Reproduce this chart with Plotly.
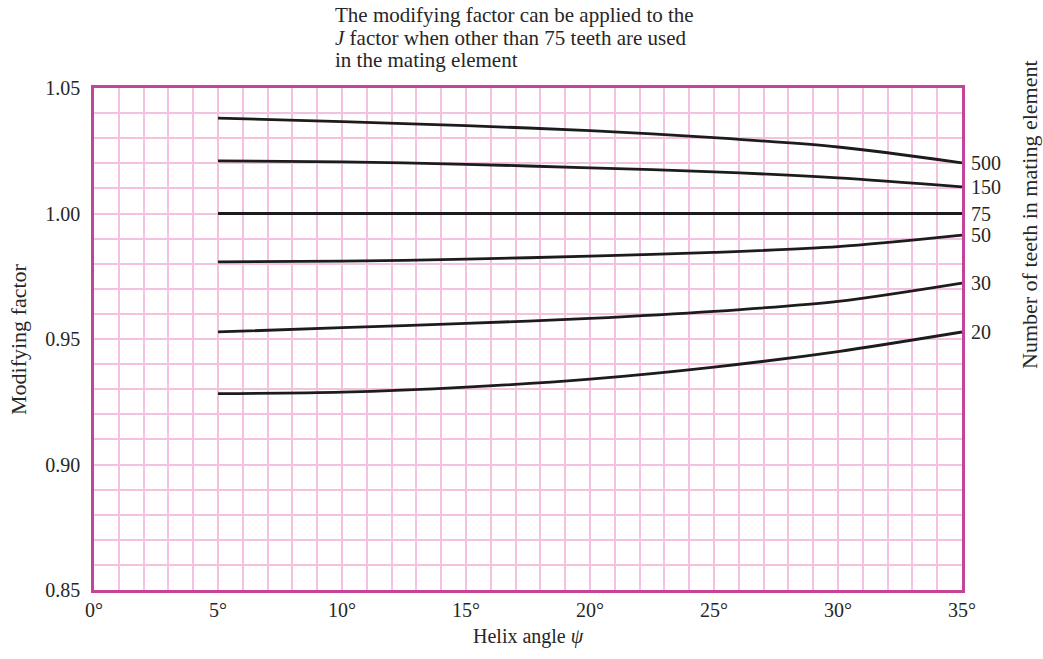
import plotly.graph_objects as go

helix_deg = [5, 10, 15, 20, 25, 30, 35]
teeth_500 = [1.038, 1.0366, 1.0350, 1.0330, 1.0302, 1.0265, 1.0202]
teeth_150 = [1.021, 1.0206, 1.0196, 1.0182, 1.0166, 1.0142, 1.0106]
teeth_75 = [1.000, 1.000, 1.000, 1.000, 1.000, 1.000, 1.000]
teeth_50 = [0.9807, 0.9810, 0.9818, 0.9830, 0.9845, 0.9868, 0.9914]
teeth_30 = [0.9528, 0.9545, 0.9562, 0.9582, 0.9610, 0.9650, 0.9723]
teeth_20 = [0.9282, 0.9288, 0.9308, 0.9340, 0.9388, 0.9450, 0.9528]

series = [("500", teeth_500), ("150", teeth_150), ("75", teeth_75),
          ("50", teeth_50), ("30", teeth_30), ("20", teeth_20)]

x_ticks = [0, 5, 10, 15, 20, 25, 30, 35]
x_tick_text = ["0°", "5°", "10°", "15°", "20°", "25°", "30°", "35°"]
y_ticks = [0.85, 0.90, 0.95, 1.00, 1.05]
y_tick_text = ["0.85", "0.90", "0.95", "1.00", "1.05"]

title_lines = ["The modifying factor can be applied to the",
               "<i>J</i> factor when other than 75 teeth are used",
               "in the mating element"]

FONT = "Liberation Serif, Times New Roman, serif"
AXIS = "#c4449c"
GRID = "#f4c2de"
INK = "#1c1c1c"
TXT = "#262626"

L, R, T, B = 94, 962, 88, 590
PW, PH = R - L, B - T


def px(xp):
    return (xp - L) / PW


def py(yp):
    return (B - yp) / PH


fig = go.Figure()
for name, vals in series:
    fig.add_trace(go.Scatter(x=helix_deg, y=vals, mode="lines", name=name,
                             line=dict(color=INK, width=2.8, shape="spline", smoothing=0.8),
                             showlegend=False, hoverinfo="skip"))

annotations = []
for name, vals in series:
    annotations.append(dict(x=1.0, xref="paper", xshift=7, y=vals[-1], yref="y",
                            text=name, showarrow=False, xanchor="left", yanchor="middle",
                            font=dict(family=FONT, size=20, color=TXT)))

for i, line in enumerate(title_lines):
    annotations.append(dict(x=px(333), xref="paper", y=py(15 + 22.5 * i), yref="paper",
                            text=line, showarrow=False, xanchor="left", yanchor="middle",
                            align="left", font=dict(family=FONT, size=21, color=TXT)))
annotations.append(dict(x=px(18), xref="paper", y=py(339), yref="paper",
                        text="Modifying factor", textangle=-90, showarrow=False,
                        xanchor="center", yanchor="middle",
                        font=dict(family=FONT, size=22, color=TXT)))
annotations.append(dict(x=px(1029), xref="paper", y=py(215), yref="paper",
                        text="Number of teeth in mating element", textangle=-90, showarrow=False,
                        xanchor="center", yanchor="middle",
                        font=dict(family=FONT, size=22, color=TXT)))
annotations.append(dict(x=px(528), xref="paper", y=py(636), yref="paper",
                        text="Helix angle <i>ψ</i>", showarrow=False,
                        xanchor="center", yanchor="middle",
                        font=dict(family=FONT, size=20, color=TXT)))

fig.update_layout(
    width=1043, height=659,
    margin=dict(l=L, r=1043 - R, t=T, b=659 - B),
    paper_bgcolor="white", plot_bgcolor="white",
    annotations=annotations,
    xaxis=dict(range=[0, 35], tickvals=x_ticks, ticktext=x_tick_text,
               showgrid=True, gridcolor=GRID, gridwidth=1.5,
               minor=dict(dtick=1, showgrid=True, gridcolor=GRID, gridwidth=1.5),
               showline=True, linecolor=AXIS, linewidth=2.5, mirror=True,
               ticks="", zeroline=False, ticklabelstandoff=0,
               tickfont=dict(family=FONT, size=20, color=TXT)),
    yaxis=dict(range=[0.85, 1.05], tickvals=y_ticks, ticktext=y_tick_text,
               showgrid=True, gridcolor=GRID, gridwidth=1.5,
               minor=dict(dtick=0.01, showgrid=True, gridcolor=GRID, gridwidth=1.5),
               showline=True, linecolor=AXIS, linewidth=2.5, mirror=True,
               ticks="", zeroline=False, ticklabelstandoff=7,
               tickfont=dict(family=FONT, size=20, color=TXT)),
)

fig.write_html("out.html")
